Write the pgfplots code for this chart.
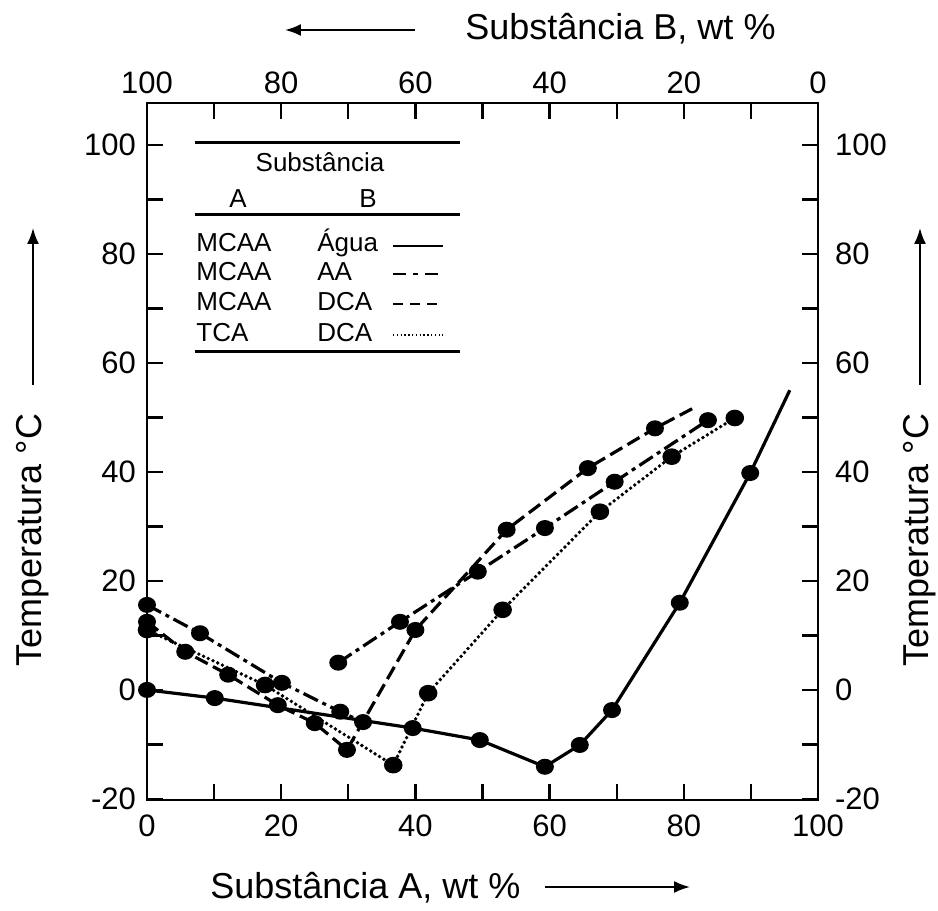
\documentclass[border=0pt]{standalone}
\usepackage{fontspec}
\setmainfont{Liberation Sans}
\usepackage{pgfplots}
\pgfplotsset{compat=1.18}
\usetikzlibrary{arrows.meta}
\newcommand\ticksize{\fontsize{15.5}{18}\selectfont}
\newcommand\labsize{\fontsize{18}{21}\selectfont}
\newcommand\legsize{\fontsize{13}{15}\selectfont}
\begin{document}
\begin{tikzpicture}
\useasboundingbox (-73.5pt,-55.5pt) rectangle (395.5pt,400pt);
\pgfplotsset{
  common/.style={scale only axis, width=335.5pt, height=348.5pt,
    xmin=0, xmax=100, ymin=-20.2, ymax=107.7,
    /pgf/number format/assume math mode=true},
  ser/.style={black, line width=1.6pt, mark=*, mark size=3.2pt,
    mark options={solid, fill=black, xscale=1.15}},
  dashdot/.style={dash pattern=on 8pt off 2.5pt on 2pt off 2.5pt},
  dashd/.style={dash pattern=on 7pt off 3pt},
  dotd/.style={line width=1.9pt, line cap=round, dash pattern=on 0pt off 2.6pt},
}
\begin{axis}[common,
  xtick={0,20,...,100}, minor xtick={10,30,...,90},
  ytick={-20,0,...,100}, minor ytick={-10,10,...,90},
  tick align=inside, major tick length=8pt, minor tick length=8pt,
  every tick/.style={black, line width=1.2pt},
  axis line style={line width=1.3pt},
  xticklabel style={font=\ticksize, yshift=-4pt},
  yticklabel style={font=\ticksize, xshift=-2pt},
]
% MCAA - Agua (solid)
\addplot[black, line width=1.6pt] coordinates {
 (0,0) (10.1,-1.5) (39.6,-7.0) (49.6,-9.2) (59.3,-14.1) (64.5,-10.1)
 (69.3,-3.7) (79.4,16) (89.9,39.8) (95.8,55)};
\addplot[ser, only marks] coordinates {
 (0,0) (10.1,-1.5) (39.6,-7.0) (49.6,-9.2) (59.3,-14.1) (64.5,-10.1)
 (69.3,-3.7) (79.4,16) (89.9,39.8)};
% MCAA - AA (dash-dot)
\addplot[ser, dashdot] coordinates {
 (0,15.6) (7.9,10.4) (20.1,1.3) (28.8,-4.0) (32.2,-5.9)};
\addplot[ser, dashdot] coordinates {
 (28.5,5.0) (37.7,12.5) (49.3,21.7) (59.3,29.7) (69.7,38.2) (83.6,49.5)};
% MCAA - DCA (dashed)
\addplot[black, line width=1.6pt, dashd] coordinates {
 (0,12.5) (5.7,7.0) (12.1,2.8) (19.5,-2.8) (25,-6.1) (29.8,-11)
 (40,11) (53.6,29.4) (65.7,40.7) (75.7,48) (81.4,51.7)};
\addplot[ser, only marks] coordinates {
 (0,12.5) (5.7,7.0) (12.1,2.8) (19.5,-2.8) (25,-6.1) (29.8,-11)
 (40,11) (53.6,29.4) (65.7,40.7) (75.7,48)};
% TCA - DCA (dotted)
\addplot[ser, dotd] coordinates {
 (0,11) (17.6,0.9) (36.7,-13.8) (41.9,-0.6) (53,14.7) (67.5,32.7)
 (78.2,42.8) (87.6,49.9)};
\end{axis}
% top labels (substance B)
\begin{axis}[common, x dir=reverse, axis x line*=top, axis y line=none,
  axis line style={draw=none}, major tick length=0pt,
  xtick={0,20,...,100}, xticklabel style={font=\ticksize, yshift=1pt}]
\end{axis}
% right labels
\begin{axis}[common, axis y line*=right, axis x line=none,
  axis line style={draw=none}, major tick length=0pt,
  ytick={-20,0,...,100}, yticklabel style={font=\ticksize, xshift=5pt}]
\end{axis}
% axis titles
\node[anchor=base west, font=\labsize, inner sep=0pt] at (31.5pt,-49pt) {Substância A, wt \%};
\draw[line width=1pt, -{Latex[length=8pt,width=6pt]}] (199pt,-43.5pt) -- (271.5pt,-43.5pt);
\node[anchor=base west, font=\labsize, inner sep=0pt] at (159pt,380pt) {Substância B, wt \%};
\draw[line width=1pt, -{Latex[length=8pt,width=6pt]}] (134pt,385pt) -- (69pt,385pt);
\node[rotate=90, font=\labsize, inner sep=0pt] at (-57pt,130pt) {Temperatura °C};
\draw[line width=1pt, -{Latex[length=8pt,width=6pt]}] (-57pt,207.5pt) -- (-57pt,286pt);
\node[rotate=90, font=\labsize, inner sep=0pt] at (386.5pt,130pt) {Temperatura °C};
\draw[line width=1pt, -{Latex[length=8pt,width=6pt]}] (386.5pt,207.5pt) -- (386.5pt,286pt);
% legend table
\draw[line width=1.5pt] (24pt,328.5pt) -- (156.5pt,328.5pt);
\draw[line width=1.5pt] (24pt,292.5pt) -- (156.5pt,292.5pt);
\draw[line width=1.5pt] (24pt,224pt) -- (156.5pt,224pt);
\begin{scope}[every node/.style={font=\legsize, inner sep=0pt}]
\node[anchor=base] at (86.5pt,314pt) {Substância};
\node[anchor=base] at (45.5pt,296pt) {A};
\node[anchor=base] at (110.5pt,296pt) {B};
\node[anchor=base west] at (24.5pt,274pt) {MCAA};
\node[anchor=base west] at (24.5pt,259.5pt) {MCAA};
\node[anchor=base west] at (24.5pt,244.5pt) {MCAA};
\node[anchor=base west] at (24.5pt,229pt) {TCA};
\node[anchor=base west] at (85pt,274pt) {Água};
\node[anchor=base west] at (85pt,259.5pt) {AA};
\node[anchor=base west] at (85pt,244.5pt) {DCA};
\node[anchor=base west] at (85pt,229pt) {DCA};
\end{scope}
\draw[line width=1.1pt] (123pt,277pt) -- (148pt,277pt);
\draw[line width=1.1pt, dash pattern=on 6.5pt off 3.5pt on 2.5pt off 3.5pt] (123pt,263pt) -- (148pt,263pt);
\draw[line width=1.1pt, dash pattern=on 5pt off 3.5pt] (123pt,248pt) -- (148pt,248pt);
\draw[line width=1.1pt, dash pattern=on 0.7pt off 1.2pt] (123pt,232.5pt) -- (148pt,232.5pt);
\end{tikzpicture}
\end{document}
